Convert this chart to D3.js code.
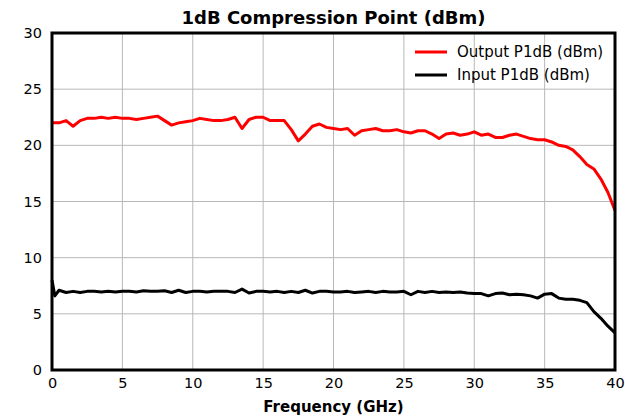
<!DOCTYPE html>
<html>
<head>
<meta charset="utf-8">
<script src="https://cdn.jsdelivr.net/npm/d3@7"></script>
<style>
  body { margin: 0; background: #fff; }
  text { font-family: "DejaVu Sans", sans-serif; }
</style>
</head>
<body>
<div id="chart"></div>
<script>
// --- Data
var outFreq = [0,0.5,1,1.5,2,2.5,3,3.5,4,4.5,5,5.5,6,6.5,7,7.5,8,8.5,9,9.5,10,10.5,11,11.5,12,12.5,13,13.5,14,14.5,15,15.5,16,16.5,17,17.5,18,18.5,19,19.5,20,20.5,21,21.5,22,22.5,23,23.5,24,24.5,25,25.5,26,26.5,27,27.5,28,28.5,29,29.5,30,30.5,31,31.5,32,32.5,33,33.5,34,34.5,35,35.5,36,36.5,37,37.5,38,38.5,39,39.5,40];
var outP1dB = [22.0,22.0,22.2,21.7,22.2,22.4,22.4,22.5,22.4,22.5,22.4,22.4,22.3,22.4,22.5,22.6,22.2,21.8,22.0,22.1,22.2,22.4,22.3,22.2,22.2,22.3,22.5,21.5,22.3,22.5,22.5,22.2,22.2,22.2,21.4,20.4,21.0,21.7,21.9,21.6,21.5,21.4,21.5,20.9,21.3,21.4,21.5,21.3,21.3,21.4,21.2,21.1,21.3,21.3,21.0,20.6,21.0,21.1,20.9,21.0,21.2,20.9,21.0,20.7,20.7,20.9,21.0,20.8,20.6,20.5,20.5,20.3,20.0,19.9,19.6,19.0,18.3,17.9,17.0,15.8,14.2];

var inFreq = [0,0.2,0.5,1,1.5,2,2.5,3,3.5,4,4.5,5,5.5,6,6.5,7,7.5,8,8.5,9,9.5,10,10.5,11,11.5,12,12.5,13,13.5,14,14.5,15,15.5,16,16.5,17,17.5,18,18.5,19,19.5,20,20.5,21,21.5,22,22.5,23,23.5,24,24.5,25,25.5,26,26.5,27,27.5,28,28.5,29,29.5,30,30.5,31,31.5,32,32.5,33,33.5,34,34.5,35,35.5,36,36.5,37,37.5,38,38.5,39,39.5,40];
var inP1dB = [8.0,6.6,7.1,6.9,7.0,6.9,7.0,7.0,6.95,7.0,6.95,7.0,7.0,6.95,7.05,7.0,7.0,7.05,6.9,7.1,6.9,7.0,7.0,6.95,7.0,7.0,7.0,6.9,7.2,6.85,7.0,7.0,6.95,7.0,6.9,7.0,6.9,7.1,6.85,7.0,7.0,6.95,6.95,7.0,6.9,6.95,7.0,6.9,7.0,6.95,6.95,7.0,6.7,7.0,6.9,7.0,6.9,6.95,6.9,6.95,6.85,6.8,6.8,6.6,6.8,6.85,6.7,6.75,6.7,6.6,6.4,6.75,6.8,6.4,6.3,6.3,6.2,6.0,5.2,4.6,3.9,3.3];

var xTicks = [0,5,10,15,20,25,30,35,40];
var yTicks = [0,5,10,15,20,25,30];
var seriesNames = ['Output P1dB (dBm)', 'Input P1dB (dBm)'];
var seriesColors = ['#ff0000', '#000000'];

var width = 625, height = 419;
var margin = {top: 33, right: 10, bottom: 49, left: 52};
var w = width - margin.left - margin.right;
var h = height - margin.top - margin.bottom;

var svg = d3.select('#chart').append('svg')
  .attr('width', width)
  .attr('height', height);

var g = svg.append('g').attr('transform', 'translate(' + margin.left + ',' + margin.top + ')');

var x = d3.scaleLinear().domain([0, 40]).range([0, w]);
var y = d3.scaleLinear().domain([0, 30]).range([h, 0]);

// --- Grid
g.append('g').selectAll('line').data(xTicks).enter().append('line')
  .attr('x1', function(d){ return x(d); }).attr('x2', function(d){ return x(d); })
  .attr('y1', 0).attr('y2', h)
  .attr('stroke', '#b8b8b8').attr('stroke-width', 1);
g.append('g').selectAll('line').data(yTicks).enter().append('line')
  .attr('y1', function(d){ return y(d); }).attr('y2', function(d){ return y(d); })
  .attr('x1', 0).attr('x2', w)
  .attr('stroke', '#b8b8b8').attr('stroke-width', 1);

// --- Axes
var xAxis = g.append('g').attr('transform', 'translate(0,' + h + ')')
  .call(d3.axisBottom(x).tickValues(xTicks).tickSize(0).tickPadding(8));
var yAxis = g.append('g')
  .call(d3.axisLeft(y).tickValues(yTicks).tickSize(0).tickPadding(10));
[xAxis, yAxis].forEach(function(a) {
  a.select('.domain').remove();
  a.selectAll('text').attr('font-family', '"DejaVu Sans", sans-serif').attr('font-size', 14.5).attr('fill', '#000');
});

// --- Lines
var line = d3.line()
  .x(function(d){ return x(d[0]); })
  .y(function(d){ return y(d[1]); });

var series = [d3.zip(outFreq, outP1dB), d3.zip(inFreq, inP1dB)];
g.selectAll('.series').data(series).enter().append('path')
  .attr('class', 'series')
  .attr('d', line)
  .attr('fill', 'none')
  .attr('stroke', function(d, i){ return seriesColors[i]; })
  .attr('stroke-width', 3)
  .attr('stroke-linejoin', 'round');

// --- Frame
g.append('rect')
  .attr('x', 0).attr('y', 0).attr('width', w).attr('height', h)
  .attr('fill', 'none').attr('stroke', '#000').attr('stroke-width', 3);

// --- Legend
var leg = g.append('g').attr('transform', 'translate(' + (w - 200) + ',19)');
seriesNames.forEach(function(name, i) {
  leg.append('line')
    .attr('x1', 0).attr('x2', 32).attr('y1', i * 23).attr('y2', i * 23)
    .attr('stroke', seriesColors[i]).attr('stroke-width', 3);
  leg.append('text')
    .attr('x', 42).attr('y', i * 23 + 5)
    .attr('font-size', 15)
    .text(name);
});

// --- Titles
svg.append('text')
  .attr('x', margin.left + w / 2).attr('y', 24)
  .attr('text-anchor', 'middle')
  .attr('font-size', 18).attr('font-weight', 'bold')
  .text('1dB Compression Point (dBm)');

svg.append('text')
  .attr('x', margin.left + w / 2).attr('y', 412)
  .attr('text-anchor', 'middle')
  .attr('font-size', 15).attr('font-weight', 'bold')
  .text('Frequency (GHz)');
</script>
</body>
</html>
